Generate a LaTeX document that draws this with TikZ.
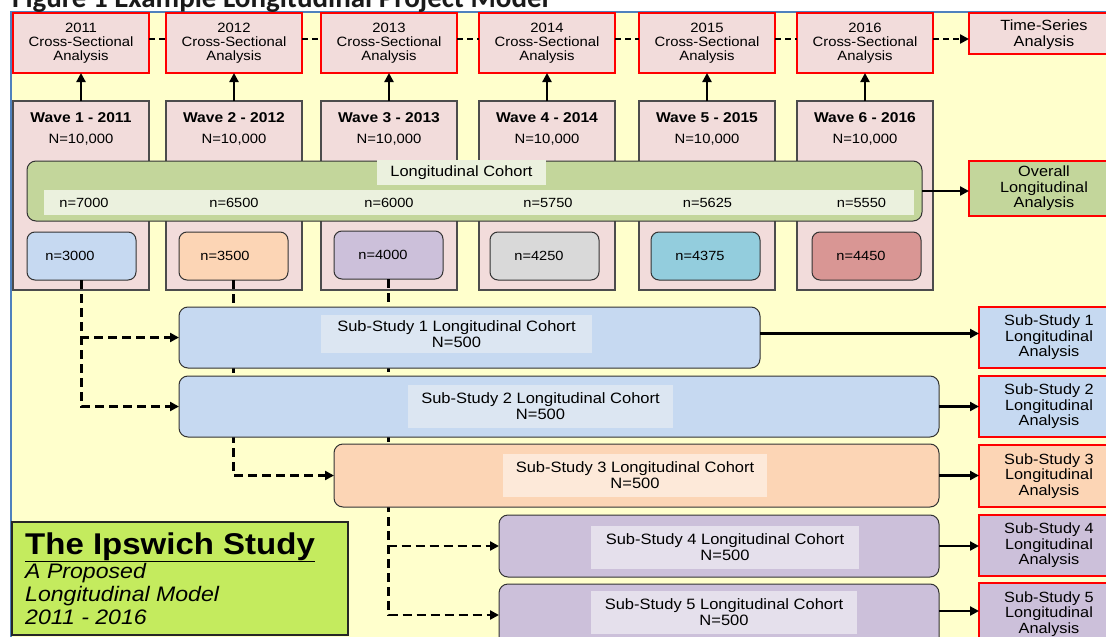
\documentclass[tikz,border=0pt]{standalone}
\usepackage{fontspec}
\setmainfont{Liberation Sans}[FakeStretch=1.1]
\newfontfamily\capfont{Carlito}
\usetikzlibrary{arrows.meta}
\pgfdeclarelayer{front}
\pgfsetlayers{main,front}
\newcommand\fsz[2]{\fontsize{#1}{#2}\selectfont}
\definecolor{pinkbg}{HTML}{F2DCDB}
\definecolor{bgyellow}{HTML}{FFFFCC}
\definecolor{frameblue}{HTML}{4F81BD}
\definecolor{cohortgreen}{HTML}{C3D69B}
\definecolor{cohortlight}{HTML}{EBF1DE}
\definecolor{lblue}{HTML}{C6D9F1}
\definecolor{lbluelight}{HTML}{DCE6F2}
\definecolor{peach}{HTML}{FCD5B5}
\definecolor{peachlight}{HTML}{FDE9D9}
\definecolor{lav}{HTML}{CCC0DA}
\definecolor{lavlight}{HTML}{E5E0EC}
\definecolor{grayb}{HTML}{D9D9D9}
\definecolor{aqua}{HTML}{93CDDD}
\definecolor{rose}{HTML}{D99694}
\definecolor{lime}{HTML}{C4EB5E}
\definecolor{capcol}{HTML}{1A1A1A}
\begin{document}
\begin{tikzpicture}[x=1pt,y=-1pt,
  bx/.style={inner sep=0pt, outer sep=0pt, anchor=north west},
  redbox/.style={bx, draw=red, line width=1.5pt, fill=pinkbg, align=center, font=\fsz{13.5}{14}},
  wavebox/.style={bx, draw=black!70, line width=1.1pt, fill=pinkbg},
  anbox/.style={bx, draw=red, line width=1.5pt, align=center, font=\fsz{14.8}{15.5}},
  rbox/.style={bx, draw=black!80, line width=1pt, rounded corners=9pt},
  nbox/.style={bx, draw=black!80, line width=1pt, rounded corners=8pt, minimum width=109pt, minimum height=48pt},
  lab/.style={inner sep=0pt, align=center, font=\fsz{15}{16}},
  ntxt/.style={inner sep=0pt, font=\fsz{13.3}{14}},
  wtitle/.style={inner sep=0pt, anchor=base, font=\bfseries\fsz{14.2}{15}},
  wn/.style={inner sep=0pt, anchor=base, font=\fsz{13.5}{14}},
  legtext/.style={inner sep=0pt, anchor=base west, font=\itshape\fsz{21}{23}},
  tip/.style={-{Triangle[length=9pt,width=9pt]}},
  darrow/.style={line width=2.4pt, dash pattern=on 9pt off 5pt, tip},
  dline/.style={line width=2.4pt, dash pattern=on 6pt off 4pt},
  sarrow/.style={line width=2.2pt, tip}]
\useasboundingbox (0,0) rectangle (1106,637);
\clip (0,0) rectangle (1106,637);
% background
\fill[white] (0,0) rectangle (1106,637);
\fill[bgyellow] (11,12) rectangle (1115,645);
\draw[frameblue, line width=2pt] (11,645) -- (11,12) -- (1115,12);
% caption
\node[anchor=base west, inner sep=0pt, text=capcol, font=\capfont\bfseries\fsz{29}{30}] (cap) at (12,7) {Figure 1 Example Longitudinal Project Model};
% top cross-sectional boxes
\node[redbox, minimum width=136pt, minimum height=60pt] (cs1) at (13,13) {2011\\Cross-Sectional\\Analysis};
\node[redbox, minimum width=136pt, minimum height=60pt] (cs2) at (166,13) {2012\\Cross-Sectional\\Analysis};
\node[redbox, minimum width=136pt, minimum height=60pt] (cs3) at (321,13) {2013\\Cross-Sectional\\Analysis};
\node[redbox, minimum width=136pt, minimum height=60pt] (cs4) at (479,13) {2014\\Cross-Sectional\\Analysis};
\node[redbox, minimum width=136pt, minimum height=60pt] (cs5) at (639,13) {2015\\Cross-Sectional\\Analysis};
\node[redbox, minimum width=136pt, minimum height=60pt] (cs6) at (797,13) {2016\\Cross-Sectional\\Analysis};
\node[anbox, fill=pinkbg, minimum width=150pt, minimum height=41pt, font=\fsz{14.8}{16}] (ts) at (969,13) {\rule{0pt}{14pt}Time-Series\\Analysis};
% wave boxes
\node[wavebox, minimum width=136pt, minimum height=189pt] (w1) at (13,101) {};
\node[wavebox, minimum width=136pt, minimum height=189pt] (w2) at (166,101) {};
\node[wavebox, minimum width=136pt, minimum height=189pt] (w3) at (321,101) {};
\node[wavebox, minimum width=136pt, minimum height=189pt] (w4) at (479,101) {};
\node[wavebox, minimum width=136pt, minimum height=189pt] (w5) at (639,101) {};
\node[wavebox, minimum width=136pt, minimum height=189pt] (w6) at (797,101) {};
\node[wtitle] (wt1) at (81,122) {Wave 1 - 2011};
\node[wtitle] (wt2) at (234,122) {Wave 2 - 2012};
\node[wtitle] (wt3) at (389,122) {Wave 3 - 2013};
\node[wtitle] (wt4) at (547,122) {Wave 4 - 2014};
\node[wtitle] (wt5) at (707,122) {Wave 5 - 2015};
\node[wtitle] (wt6) at (865,122) {Wave 6 - 2016};
\node[wn] (wn1) at (81,143) {N=10,000};
\node[wn] (wn2) at (234,143) {N=10,000};
\node[wn] (wn3) at (389,143) {N=10,000};
\node[wn] (wn4) at (547,143) {N=10,000};
\node[wn] (wn5) at (707,143) {N=10,000};
\node[wn] (wn6) at (865,143) {N=10,000};
% longitudinal cohort
\node[rbox, fill=cohortgreen, minimum width=895pt, minimum height=60pt] (coh) at (27,161) {};
\node[fill=cohortlight, inner sep=0pt, minimum width=169pt, minimum height=25pt, font=\fsz{14.9}{16}] (cohl) at (461.5,172.5) {Longitudinal Cohort};
\node[bx, fill=cohortlight, minimum width=870pt, minimum height=25pt] (strip) at (44,190) {};
\node[ntxt] (c1) at (84,203) {n=7000};
\node[ntxt] (c2) at (234,203) {n=6500};
\node[ntxt] (c3) at (389,203) {n=6000};
\node[ntxt] (c4) at (548,203) {n=5750};
\node[ntxt] (c5) at (707.5,203) {n=5625};
\node[ntxt] (c6) at (861.5,203) {n=5550};
% small sample boxes
\node[nbox, fill=lblue] (nb1) at (27,232) {};
\node[nbox, fill=peach] (nb2) at (179,232) {};
\node[nbox, fill=lav] (nb3) at (334,231) {};
\node[nbox, fill=grayb] (nb4) at (490,232) {};
\node[nbox, fill=aqua] (nb5) at (651,232) {};
\node[nbox, fill=rose] (nb6) at (812,232) {};
\node[ntxt] (nt1) at (70,256) {n=3000};
\node[ntxt] (nt2) at (225,256) {n=3500};
\node[ntxt] (nt3) at (383,255) {n=4000};
\node[ntxt] (nt4) at (539,256) {n=4250};
\node[ntxt] (nt5) at (700,256) {n=4375};
\node[ntxt] (nt6) at (861,256) {n=4450};
% overall
\node[anbox, fill=cohortgreen, minimum width=150pt, minimum height=55pt] (ov) at (969,161) {Overall\\Longitudinal\\Analysis};
% arrows top
\foreach \i in {1,...,6} {\draw[sarrow] (w\i.north) -- (cs\i.south);}
\foreach \i/\j in {1/2,2/3,3/4,4/5,5/6} {\draw[dline] ([yshift=4pt]cs\i.east) -- ([yshift=4pt]cs\j.west);}
\draw[dline, tip] ([yshift=4pt]cs6.east) -- ([yshift=4pt]cs6.east -| ts.west);
\draw[sarrow] (coh.east) -- (coh.east -| ov.west);
% sub-study cohorts (front layer)
\begin{pgfonlayer}{front}
\node[rbox, fill=lblue, minimum width=581pt, minimum height=61pt] (ss1) at (179,307) {};
\node[lab, fill=lbluelight, minimum width=271pt, minimum height=38pt] (ssl1) at (456.5,334) {Sub-Study 1 Longitudinal Cohort\\N=500};
\node[rbox, fill=lblue, minimum width=760pt, minimum height=61pt] (ss2) at (179,376) {};
\node[lab, fill=lbluelight, minimum width=265pt, minimum height=43pt] (ssl2) at (540.5,406.5) {Sub-Study 2 Longitudinal Cohort\\N=500};
\node[rbox, fill=peach, minimum width=605pt, minimum height=63pt] (ss3) at (334,444) {};
\node[lab, fill=peachlight, minimum width=264pt, minimum height=43pt] (ssl3) at (635,475.5) {Sub-Study 3 Longitudinal Cohort\\N=500};
\node[rbox, fill=lav, minimum width=440pt, minimum height=62pt] (ss4) at (499,515) {};
\node[lab, fill=lavlight, minimum width=268pt, minimum height=43pt] (ssl4) at (725,547.5) {Sub-Study 4 Longitudinal Cohort\\N=500};
\node[rbox, fill=lav, minimum width=440pt, minimum height=62pt] (ss5) at (499,584) {};
\node[lab, fill=lavlight, minimum width=266pt, minimum height=43pt] (ssl5) at (724,612.5) {Sub-Study 5 Longitudinal Cohort\\N=500};
% right column
\node[anbox, fill=lblue, minimum width=140pt, minimum height=61pt] (sa1) at (979,307) {Sub-Study 1\\Longitudinal\\Analysis};
\node[anbox, fill=lblue, minimum width=140pt, minimum height=61pt] (sa2) at (979,376) {Sub-Study 2\\Longitudinal\\Analysis};
\node[anbox, fill=peach, minimum width=140pt, minimum height=62pt] (sa3) at (979,445) {Sub-Study 3\\Longitudinal\\Analysis};
\node[anbox, fill=lav, minimum width=140pt, minimum height=61pt] (sa4) at (979,515) {Sub-Study 4\\Longitudinal\\Analysis};
\node[anbox, fill=lav, minimum width=140pt, minimum height=62pt] (sa5) at (979,583) {Sub-Study 5\\Longitudinal\\Analysis};
\draw[sarrow] ([yshift=4pt]ss1.east) -- ([yshift=4pt]ss1.east -| sa1.west);
\draw[sarrow] (ss2.east) -- (ss2.east -| sa2.west);
\draw[sarrow] (ss3.east) -- (ss3.east -| sa3.west);
\draw[sarrow] (ss4.east) -- (ss4.east -| sa4.west);
\draw[sarrow] ([yshift=4pt]ss5.east) -- ([yshift=4pt]ss5.east -| sa5.west);
% legend
\node[bx, fill=lime, draw=black!85, line width=2pt, minimum width=336pt, minimum height=113pt] (leg) at (12,522) {};
\node[anchor=base west, inner sep=0pt, font=\bfseries\fsz{30}{32}] (legt) at (25,554) {\underline{The Ipswich Study}};
\node[legtext] (leg1) at (25,578) {A Proposed};
\node[legtext] (leg2) at (25,601) {Longitudinal Model};
\node[legtext] (leg3) at (25,624) {2011 - 2016};
\end{pgfonlayer}
% dashed connectors (behind sub-study boxes)
\draw[darrow] (nb1.south) |- (ss1.west);
\draw[darrow] (nb1.south) |- (ss2.west);
\draw[darrow] (nb2.south) |- (ss3.west);
\draw[darrow] (nb3.south) |- (ss4.west);
\draw[darrow] (nb3.south) |- (ss5.west);
\end{tikzpicture}
\end{document}
